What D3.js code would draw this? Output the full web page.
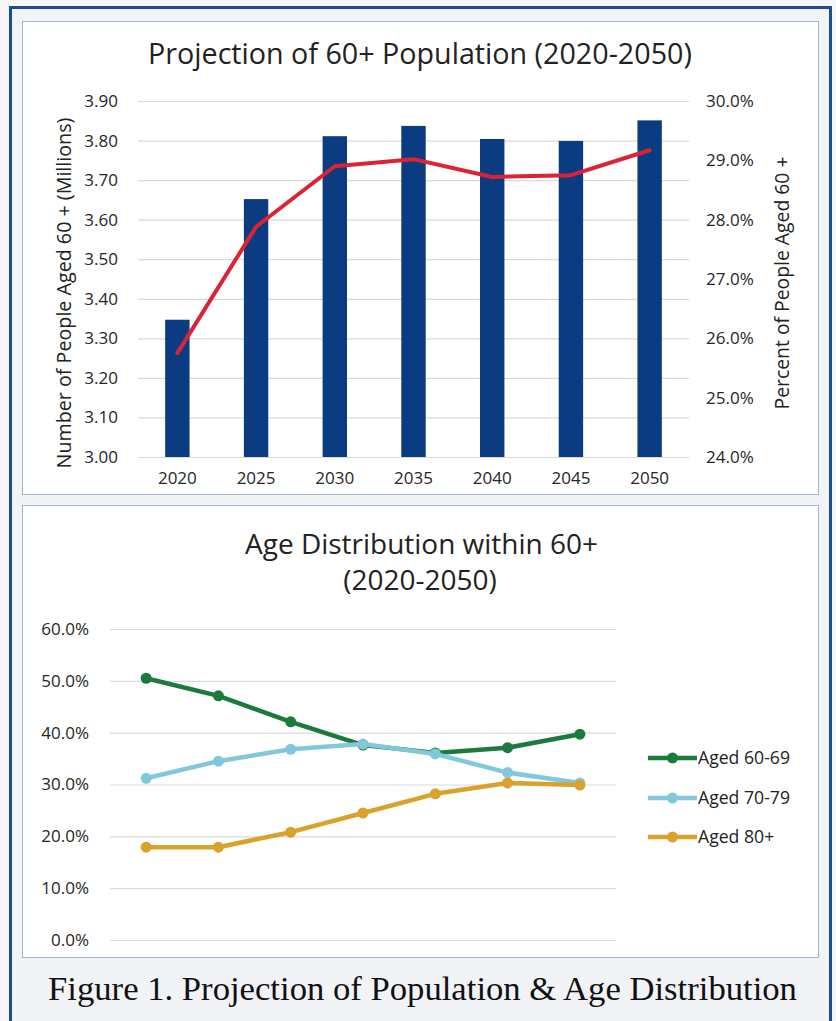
<!DOCTYPE html>
<html>
<head>
<meta charset="utf-8">
<script src="https://cdn.jsdelivr.net/npm/d3@7"></script>
<style>
  html, body { margin: 0; padding: 0; background: #f6f7f9; }
  svg { display: block; }
</style>
</head>
<body>
<svg id="chart" width="836" height="1021"></svg>
<script>
// ---------------- DATA ----------------
const years = ["2020", "2025", "2030", "2035", "2040", "2045", "2050"];
const popMillions = [3.347, 3.652, 3.811, 3.837, 3.804, 3.799, 3.851];
const pctAged60 = [0.2575, 0.2788, 0.2890, 0.2902, 0.2872, 0.2875, 0.2917];
const leftTicks = [3.0, 3.1, 3.2, 3.3, 3.4, 3.5, 3.6, 3.7, 3.8, 3.9];
const rightTicks = [0.24, 0.25, 0.26, 0.27, 0.28, 0.29, 0.30];

const seriesNames = ["Aged 60-69", "Aged 70-79", "Aged 80+"];
const aged6069 = [0.505, 0.471, 0.421, 0.376, 0.361, 0.371, 0.397];
const aged7079 = [0.312, 0.345, 0.368, 0.378, 0.359, 0.323, 0.303];
const aged80 = [0.179, 0.179, 0.208, 0.245, 0.282, 0.303, 0.299];
const distTicks = [0, 0.1, 0.2, 0.3, 0.4, 0.5, 0.6];

const topTitle = "Projection of 60+ Population (2020-2050)";
const leftAxisTitle = "Number of People Aged 60 + (Millions)";
const rightAxisTitle = "Percent of People Aged 60 +";
const bottomTitle = ["Age Distribution within 60+", "(2020-2050)"];
const caption = "Figure 1. Projection of Population & Age Distribution";

// ---------------- STYLE ----------------
const SANS = "'Open Sans', 'Noto Sans', sans-serif";
const SERIF = "'Liberation Serif', 'DejaVu Serif', serif";
const barColor = "#0b3c81";
const redColor = "#dc2336";
const seriesColors = ["#1b7a3d", "#80c8da", "#d9a22a"];
const gridColor = "#d9d9d9";
const tickColor = "#262626";
const TICK_FS = 17;

const svg = d3.select("#chart");

function fitWidth(sel, w) {
  const len = sel.node().getComputedTextLength();
  const fs = parseFloat(sel.attr("font-size"));
  sel.attr("font-size", fs * w / len);
}

// outer frame
svg.append("rect").attr("x", 10.5).attr("y", 7.5).attr("width", 820).attr("height", 1040)
  .attr("fill", "#f1f3f7").attr("stroke", "#1d4d92").attr("stroke-width", 3);

// panels
svg.append("rect").attr("x", 22.5).attr("y", 21.5).attr("width", 796).attr("height", 473)
  .attr("fill", "#ffffff").attr("stroke", "#9fb3d3").attr("stroke-width", 1);
svg.append("rect").attr("x", 22.5).attr("y", 505.5).attr("width", 796).attr("height", 452)
  .attr("fill", "#ffffff").attr("stroke", "#9fb3d3").attr("stroke-width", 1);

// ---------------- TOP CHART ----------------
const x1 = d3.scaleBand().domain(years).range([138, 689]).paddingInner(0.69).paddingOuter(0.345);
const yL = d3.scaleLinear().domain([3.0, 3.9]).range([457, 101]);
const yR = d3.scaleLinear().domain([0.24, 0.30]).range([457, 101]);

const topG = svg.append("g");

const gL = topG.append("g").attr("transform", "translate(138,0)")
  .call(d3.axisLeft(yL).tickValues(leftTicks).tickFormat(d3.format(".2f"))
    .tickSize(-551).tickPadding(20));
gL.select(".domain").remove();
gL.selectAll(".tick line").attr("stroke", gridColor).attr("stroke-width", 1.2);
gL.selectAll(".tick text").attr("font-family", SANS).attr("font-size", TICK_FS).attr("fill", tickColor);

const gR = topG.append("g").attr("transform", "translate(689,0)")
  .call(d3.axisRight(yR).tickValues(rightTicks).tickFormat(d3.format(".1%"))
    .tickSize(0).tickPadding(17));
gR.select(".domain").remove();
gR.selectAll(".tick text").attr("font-family", SANS).attr("font-size", TICK_FS).attr("fill", tickColor);

const gX = topG.append("g").attr("transform", "translate(0,457)")
  .call(d3.axisBottom(x1).tickSize(0).tickPadding(15));
gX.select(".domain").remove();
gX.selectAll(".tick text").attr("font-family", SANS).attr("font-size", TICK_FS).attr("fill", tickColor);

topG.append("g").selectAll("rect").data(years).join("rect")
  .attr("x", d => x1(d))
  .attr("width", x1.bandwidth())
  .attr("y", (d, i) => yL(popMillions[i]))
  .attr("height", (d, i) => yL(3.0) - yL(popMillions[i]))
  .attr("fill", barColor);

const lineTop = d3.line()
  .x((d, i) => x1(years[i]) + x1.bandwidth() / 2)
  .y(d => yR(d));
topG.append("path").datum(pctAged60).attr("d", lineTop)
  .attr("fill", "none").attr("stroke", redColor).attr("stroke-width", 4)
  .attr("stroke-linejoin", "round").attr("stroke-linecap", "round");

const t1 = topG.append("text").attr("x", 420).attr("y", 64).attr("text-anchor", "middle")
  .attr("font-family", SANS).attr("font-size", 24).attr("fill", "#222").text(topTitle);
fitWidth(t1, 544);

const lt = topG.append("text").attr("transform", "translate(71,293) rotate(-90)")
  .attr("text-anchor", "middle").attr("font-family", SANS).attr("font-size", 16)
  .attr("fill", "#222").text(leftAxisTitle);
fitWidth(lt, 351);

const rt = topG.append("text").attr("transform", "translate(789,283) rotate(-90)")
  .attr("text-anchor", "middle").attr("font-family", SANS).attr("font-size", 16)
  .attr("fill", "#222").text(rightAxisTitle);
fitWidth(rt, 253);

// ---------------- BOTTOM CHART ----------------
const x2 = d3.scalePoint().domain(years).range([110, 616]).padding(0.5);
const y2 = d3.scaleLinear().domain([0, 0.6]).range([940, 629]);

const bot = svg.append("g");
const gY2 = bot.append("g").attr("transform", "translate(110,0)")
  .call(d3.axisLeft(y2).tickValues(distTicks).tickFormat(d3.format(".1%"))
    .tickSize(-506).tickPadding(21));
gY2.select(".domain").remove();
gY2.selectAll(".tick line").attr("stroke", gridColor).attr("stroke-width", 1.2);
gY2.selectAll(".tick text").attr("font-family", SANS).attr("font-size", TICK_FS).attr("fill", tickColor);

const seriesData = [aged6069, aged7079, aged80];
const line2 = d3.line().x((d, i) => x2(years[i])).y(d => y2(d));

seriesData.forEach((vals, s) => {
  const g = bot.append("g");
  g.append("path").datum(vals).attr("d", line2)
    .attr("fill", "none").attr("stroke", seriesColors[s]).attr("stroke-width", 4.5)
    .attr("stroke-linejoin", "round");
  g.selectAll("circle").data(vals).join("circle")
    .attr("cx", (d, i) => x2(years[i])).attr("cy", d => y2(d)).attr("r", 5.5)
    .attr("fill", seriesColors[s]);
});

const legY = [758, 798, 837];
let legFs = null;
seriesNames.forEach((name, s) => {
  const g = bot.append("g").attr("transform", `translate(648,${legY[s]})`);
  g.append("line").attr("x1", 0).attr("x2", 49).attr("y1", 0).attr("y2", 0)
    .attr("stroke", seriesColors[s]).attr("stroke-width", 4.5);
  g.append("circle").attr("cx", 24.5).attr("cy", 0).attr("r", 5.5).attr("fill", seriesColors[s]);
  const tx = g.append("text").attr("x", 50).attr("y", 6).attr("font-family", SANS)
    .attr("font-size", 16).attr("fill", "#222").text(name);
  if (legFs === null) { fitWidth(tx, 92); legFs = tx.attr("font-size"); }
  else tx.attr("font-size", legFs);
});

const bt1 = bot.append("text").attr("x", 421.5).attr("y", 554).attr("text-anchor", "middle")
  .attr("font-family", SANS).attr("font-size", 24).attr("fill", "#222").text(bottomTitle[0]);
fitWidth(bt1, 353);
bot.append("text").attr("x", 420).attr("y", 590).attr("text-anchor", "middle")
  .attr("font-family", SANS).attr("font-size", bt1.attr("font-size")).attr("fill", "#222").text(bottomTitle[1]);

const cap = svg.append("text").attr("x", 422.5).attr("y", 1000).attr("text-anchor", "middle")
  .attr("font-family", SERIF).attr("font-size", 32).attr("fill", "#111").text(caption);
fitWidth(cap, 749);
</script>
</body>
</html>
